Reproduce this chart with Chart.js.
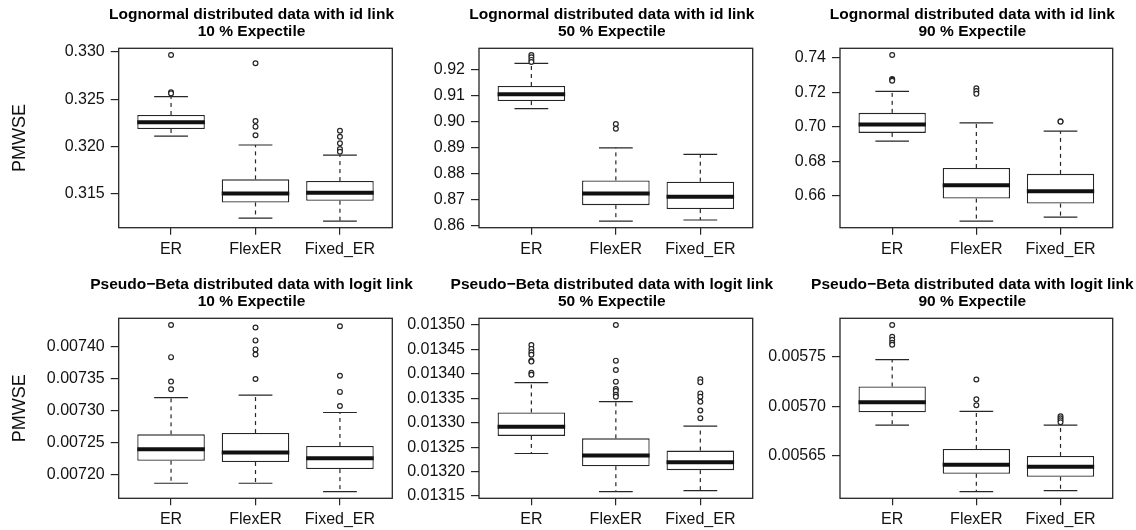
<!DOCTYPE html>
<html lang="en">
<head>
<meta charset="UTF-8" />
<title>PMWSE boxplots</title>
<script src="https://cdn.jsdelivr.net/npm/chart.js"></script>
<style>
  body { margin: 0; background: #fff; }
  #wrap { position: relative; width: 1136px; height: 530px; overflow: hidden; background: #fff; }
  #wrap canvas { position: absolute; }
</style>
</head>
<body>
<div id="wrap">
  <canvas id="c0" width="430" height="265" style="left:0;top:0"></canvas>
  <canvas id="c1" width="420" height="265" style="left:380px;top:0"></canvas>
  <canvas id="c2" width="376" height="265" style="left:760px;top:0"></canvas>
  <canvas id="c3" width="430" height="265" style="left:0;top:265px"></canvas>
  <canvas id="c4" width="420" height="265" style="left:380px;top:265px"></canvas>
  <canvas id="c5" width="376" height="265" style="left:760px;top:265px"></canvas>
</div>
<script>
// groups on the x axis
const categories = ['ER', 'FlexER', 'Fixed_ER'];
const positions = [1, 2, 3];

const titles = [
  ['Lognormal distributed data with id link', '10 % Expectile'],
  ['Lognormal distributed data with id link', '50 % Expectile'],
  ['Lognormal distributed data with id link', '90 % Expectile'],
  ['Pseudo\u2212Beta distributed data with logit link', '10 % Expectile'],
  ['Pseudo\u2212Beta distributed data with logit link', '50 % Expectile'],
  ['Pseudo\u2212Beta distributed data with logit link', '90 % Expectile']
];

// box statistics per panel: [ER, FlexER, Fixed_ER]
const whiskerLow = [
  [0.32111, 0.31247, 0.31216],
  [0.9049, 0.8618, 0.8622],
  [0.6917, 0.6455, 0.6478],
  [0.007187, 0.007187, 0.007174],
  [0.013237, 0.013159, 0.013161],
  [0.005681, 0.005614, 0.005615]
];
const quartile1 = [
  [0.32185, 0.31412, 0.3143],
  [0.9078, 0.8679, 0.8664],
  [0.6965, 0.6585, 0.6556],
  [0.007222, 0.00722, 0.007209],
  [0.013273, 0.013211, 0.013203],
  [0.005694, 0.005632, 0.005629]
];
const medians = [
  [0.32256, 0.31507, 0.31514],
  [0.9104, 0.8724, 0.8711],
  [0.7014, 0.6662, 0.6627],
  [0.00724, 0.007235, 0.007226],
  [0.013292, 0.013233, 0.013219],
  [0.005704, 0.005641, 0.005639]
];
const quartile3 = [
  [0.32333, 0.31655, 0.31637],
  [0.9136, 0.8774, 0.8769],
  [0.7081, 0.6762, 0.6728],
  [0.007263, 0.007265, 0.007245],
  [0.013321, 0.013268, 0.013243],
  [0.00572, 0.005657, 0.00565]
];
const whiskerHigh = [
  [0.32526, 0.32017, 0.31911],
  [0.9223, 0.8899, 0.8874],
  [0.7205, 0.7023, 0.6975],
  [0.00732, 0.007324, 0.007297],
  [0.013382, 0.013343, 0.013293],
  [0.005747, 0.005695, 0.005681]
];
const outliers = [
  [[0.32965, 0.32572, 0.3256], [0.32878, 0.3227, 0.3221, 0.3212], [0.32167, 0.32104, 0.32034, 0.31974, 0.31946]],
  [[0.9255, 0.9246, 0.9236, 0.9228], [0.899, 0.8972], []],
  [[0.7416, 0.7277, 0.7272, 0.7267], [0.7223, 0.7207, 0.7191], [0.7033, 0.703]],
  [[0.007433, 0.007383, 0.007345, 0.007333], [0.007429, 0.007409, 0.007395, 0.007387, 0.007349], [0.007431, 0.007354, 0.007329, 0.007307]],
  [[0.013459, 0.013451, 0.013444, 0.013439, 0.013427, 0.013425, 0.013402, 0.013398],
   [0.0135, 0.013427, 0.013408, 0.013384, 0.013369, 0.013365, 0.013357, 0.013353],
   [0.013389, 0.013383, 0.01336, 0.013353, 0.013343, 0.013325, 0.013309]],
  [[0.005782, 0.00577, 0.005767, 0.005764, 0.005762], [0.005727, 0.005707, 0.005701], [0.00569, 0.005688, 0.005686, 0.005684]]
];

const yTickLabels = [
  ['0.315', '0.320', '0.325', '0.330'],
  ['0.86', '0.87', '0.88', '0.89', '0.90', '0.91', '0.92'],
  ['0.66', '0.68', '0.70', '0.72', '0.74'],
  ['0.00720', '0.00725', '0.00730', '0.00735', '0.00740'],
  ['0.01315', '0.01320', '0.01325', '0.01330', '0.01335', '0.01340', '0.01345', '0.01350'],
  ['0.00565', '0.00570', '0.00575']
];

const ink = '#262626';
const family = "'Liberation Sans', Arial, Helvetica, sans-serif";

// layout of the canvases (col / row); canvases are transparent and may overlap
const yAxisWidth = [118.7, 99, 80];
const padRight = [37.7, 47.3, 23.3];
const plotTop = [48.3, 53.3];
const xAxisHeight = [37.3, 31.7];

function seg(ctx, x1, y1, x2, y2) {
  ctx.beginPath();
  ctx.moveTo(x1, y1);
  ctx.lineTo(x2, y2);
  ctx.stroke();
}

// whiskers, staples, medians, frame and two-line title, R boxplot style
const rboxPlugin = {
  id: 'rbox',
  beforeDatasetsDraw(chart, args, opts) {
    const p = opts.panel;
    const { ctx, scales: { x, y } } = chart;
    const bars = chart.getDatasetMeta(0).data;
    ctx.save();
    ctx.strokeStyle = ink;
    ctx.lineWidth = 1.2;
    positions.forEach((pos, i) => {
      const cx = x.getPixelForValue(pos);
      const cap = bars[i].width / 4;
      const yLo = y.getPixelForValue(whiskerLow[p][i]);
      const yHi = y.getPixelForValue(whiskerHigh[p][i]);
      const yQ1 = y.getPixelForValue(quartile1[p][i]);
      const yQ3 = y.getPixelForValue(quartile3[p][i]);
      ctx.setLineDash([4, 4]);
      seg(ctx, cx, yQ3, cx, yHi);
      seg(ctx, cx, yQ1, cx, yLo);
      ctx.setLineDash([]);
      seg(ctx, cx - cap, yHi, cx + cap, yHi);
      seg(ctx, cx - cap, yLo, cx + cap, yLo);
    });
    ctx.restore();
  },
  afterDatasetsDraw(chart, args, opts) {
    const p = opts.panel;
    const { ctx, scales: { x, y } } = chart;
    const bars = chart.getDatasetMeta(0).data;
    ctx.save();
    ctx.strokeStyle = '#111';
    ctx.lineWidth = 4;
    positions.forEach((pos, i) => {
      const cx = x.getPixelForValue(pos);
      const half = bars[i].width / 2;
      const ym = y.getPixelForValue(medians[p][i]);
      seg(ctx, cx - half, ym, cx + half, ym);
    });
    ctx.restore();
  },
  afterDraw(chart, args, opts) {
    const { ctx, chartArea: a } = chart;
    ctx.save();
    ctx.strokeStyle = ink;
    ctx.lineWidth = 1.3;
    ctx.strokeRect(a.left, a.top, a.right - a.left, a.bottom - a.top);
    ctx.fillStyle = '#000';
    ctx.font = 'bold 15.5px ' + family;
    ctx.textAlign = 'center';
    ctx.textBaseline = 'middle';
    const cx = (a.left + a.right) / 2 - 4;
    ctx.fillText(titles[opts.panel][0], cx, a.top - 34);
    ctx.fillText(titles[opts.panel][1], cx, a.top - 17);
    ctx.restore();
  }
};

function makePanel(p) {
  const col = p % 3, row = Math.floor(p / 3);
  const all = [...whiskerLow[p], ...whiskerHigh[p], ...outliers[p].flat()];
  const lo = Math.min(...all), hi = Math.max(...all);
  const ext = (hi - lo) * 0.04;
  const tickValues = yTickLabels[p].map(Number);

  return new Chart(document.getElementById('c' + p), {
    type: 'bar',
    data: {
      datasets: [
        {
          type: 'bar',
          data: positions.map((x, i) => ({ x: x, y: [quartile1[p][i], quartile3[p][i]] })),
          backgroundColor: '#fff',
          borderColor: ink,
          borderWidth: 1.3,
          borderSkipped: false,
          categoryPercentage: 1,
          barPercentage: 0.8
        },
        {
          type: 'scatter',
          data: outliers[p].flatMap((vals, i) => vals.map(v => ({ x: positions[i], y: v }))),
          pointRadius: 2.4,
          pointBorderWidth: 1.2,
          pointBackgroundColor: '#fff',
          pointBorderColor: ink
        }
      ]
    },
    options: {
      responsive: false,
      animation: false,
      devicePixelRatio: 1,
      layout: { padding: { left: 0, right: padRight[col], top: plotTop[row], bottom: 0 } },
      plugins: {
        legend: { display: false },
        tooltip: { enabled: false },
        title: { display: false },
        rbox: { panel: p }
      },
      scales: {
        x: {
          type: 'linear',
          min: 0.38,
          max: 3.62,
          offset: false,
          afterBuildTicks: s => { s.ticks = positions.map(v => ({ value: v })); },
          afterFit: s => { s.height = xAxisHeight[row]; },
          grid: { display: true, offset: false, drawOnChartArea: false, drawTicks: true, tickLength: 7, color: ink, lineWidth: 1.2 },
          border: { display: false },
          ticks: {
            autoSkip: false, maxRotation: 0, padding: 5, color: '#111',
            font: { family: family, size: 16 },
            callback: (v, i) => categories[i]
          }
        },
        y: {
          type: 'linear',
          min: lo - ext,
          max: hi + ext,
          afterBuildTicks: s => { s.ticks = tickValues.map(v => ({ value: v })); },
          afterFit: s => { s.width = yAxisWidth[col]; },
          grid: { display: true, drawOnChartArea: false, drawTicks: true, tickLength: 8, color: ink, lineWidth: 1.2 },
          border: { display: false },
          title: {
            display: col === 0,
            text: 'PMWSE',
            color: '#111',
            font: { family: family, size: 18 },
            padding: { top: 9, bottom: 0 }
          },
          ticks: {
            autoSkip: false, padding: 6, color: '#111',
            font: { family: family, size: 16 },
            callback: (v, i) => yTickLabels[p][i]
          }
        }
      }
    },
    plugins: [rboxPlugin]
  });
}

for (let p = 0; p < 6; p++) makePanel(p);
</script>
</body>
</html>
